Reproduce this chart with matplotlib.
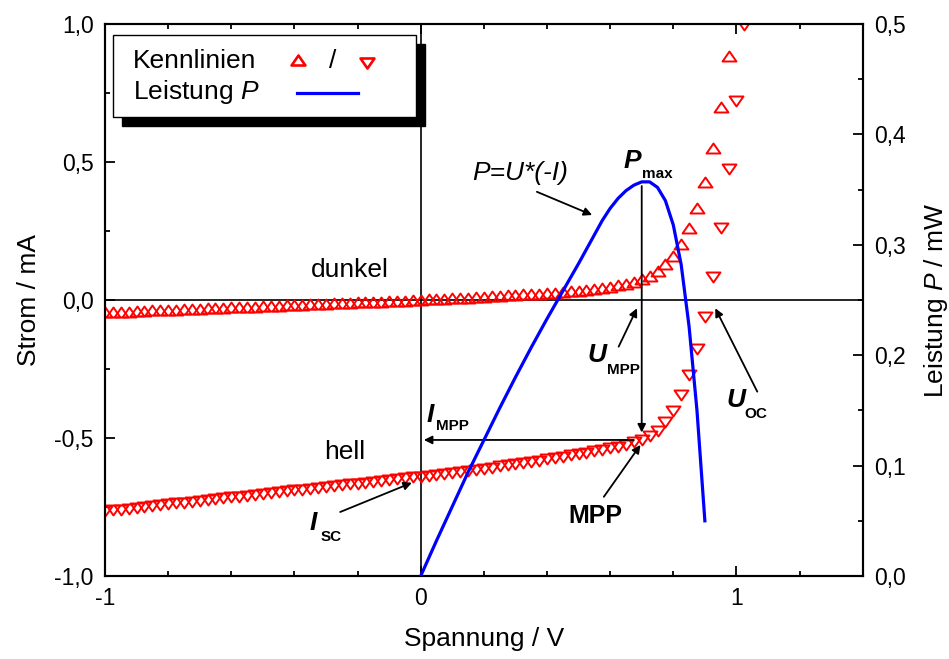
import numpy as np
import matplotlib.pyplot as plt
from matplotlib.path import Path
from matplotlib.patches import Rectangle
from matplotlib.ticker import MultipleLocator, FuncFormatter

plt.rcParams['font.family'] = ['Liberation Sans', 'DejaVu Sans']
plt.rcParams['mathtext.fontset'] = 'custom'
plt.rcParams['mathtext.rm'] = 'Liberation Sans'
plt.rcParams['mathtext.it'] = 'Liberation Sans:italic'
plt.rcParams['mathtext.bf'] = 'Liberation Sans:bold'

# voltage sweep, 25 mV steps
u_dark = np.round(np.arange(-1.0, 0.9751, 0.025), 3)
u_light = np.round(np.arange(-1.0, 1.0251, 0.025), 3)

# dark curve (mA)
i_dark = [-0.045, -0.044, -0.043, -0.042, -0.041, -0.039, -0.038, -0.037, -0.036, -0.035,
          -0.034, -0.033, -0.032, -0.030, -0.029, -0.028, -0.027, -0.026, -0.025, -0.024,
          -0.023, -0.021, -0.020, -0.019, -0.018, -0.017, -0.016, -0.015, -0.014, -0.012,
          -0.011, -0.010, -0.009, -0.008, -0.007, -0.006, -0.005, -0.003, -0.002, -0.001,
          0.000,
          0.002, 0.003, 0.005, 0.006, 0.008, 0.009, 0.011, 0.012, 0.014, 0.015,
          0.017, 0.018, 0.020, 0.021, 0.023, 0.025, 0.027, 0.029, 0.031, 0.034,
          0.037, 0.040, 0.044, 0.048, 0.053, 0.059, 0.066, 0.075, 0.087, 0.106,
          0.129, 0.159, 0.203, 0.260, 0.332, 0.429, 0.552, 0.700, 0.884]

# illuminated curve (mA)
i_light = [-0.765, -0.762, -0.759, -0.756, -0.752, -0.749, -0.746, -0.743, -0.740, -0.737,
           -0.734, -0.731, -0.727, -0.724, -0.721, -0.718, -0.715, -0.712, -0.709, -0.706,
           -0.702, -0.699, -0.696, -0.693, -0.690, -0.687, -0.684, -0.681, -0.677, -0.674,
           -0.671, -0.668, -0.665, -0.662, -0.659, -0.656, -0.652, -0.649, -0.646, -0.643,
           -0.640,
           -0.636, -0.633, -0.629, -0.626, -0.622, -0.618, -0.615, -0.611, -0.607, -0.603,
           -0.599, -0.595, -0.591, -0.587, -0.582, -0.577, -0.573, -0.568, -0.563, -0.558,
           -0.553, -0.548, -0.543, -0.537, -0.531, -0.524, -0.516, -0.507, -0.493, -0.473,
           -0.443, -0.401, -0.344, -0.272, -0.179, -0.060, 0.085, 0.262, 0.473, 0.721,
           0.995]

# power curve (mW)
u_p = [0.0, 0.05, 0.10, 0.15, 0.20, 0.25, 0.30, 0.35, 0.40, 0.45, 0.50, 0.55, 0.575,
       0.60, 0.625, 0.65, 0.675, 0.70, 0.725, 0.75, 0.775, 0.80, 0.825, 0.85, 0.875, 0.90]
p = [0.000, 0.032, 0.063, 0.094, 0.123, 0.152, 0.180, 0.207, 0.233, 0.258, 0.283, 0.309,
     0.322, 0.333, 0.342, 0.349, 0.354, 0.357, 0.357, 0.352, 0.340, 0.318, 0.282, 0.226,
     0.150, 0.050]

codes = [Path.MOVETO, Path.LINETO, Path.LINETO, Path.CLOSEPOLY]
tri_up = Path([(0, 0.72), (-1, -0.72), (1, -0.72), (0, 0.72)], codes)
tri_dn = Path([(0, -0.72), (-1, 0.72), (1, 0.72), (0, -0.72)], codes)

fig = plt.figure(figsize=(9.49, 6.59), dpi=100)
ax = fig.add_axes([0.1106, 0.1259, 0.7985, 0.8377])
ax2 = ax.twinx()

ax.axhline(0, color='black', lw=1.2, zorder=1)
ax.axvline(0, color='black', lw=1.2, zorder=1)

ax.plot(u_dark, i_dark, ls='none', marker=tri_up, ms=10, mfc='none', mec='red', mew=1.4, zorder=3)
ax.plot(u_light, i_light, ls='none', marker=tri_dn, ms=10, mfc='none', mec='red', mew=1.4, zorder=3)
ax2.plot(u_p, p, color='#0000ff', lw=2.3, zorder=3)

ax.set_xlim(-1, 1.4)
ax.set_ylim(-1, 1)
ax2.set_ylim(0, 0.5)

comma1 = FuncFormatter(lambda v, pos: ('%.1f' % (0 if abs(v) < 1e-9 else v)).replace('.', ','))
ax.xaxis.set_major_locator(MultipleLocator(1))
ax.xaxis.set_minor_locator(MultipleLocator(0.2))
ax.xaxis.set_major_formatter(FuncFormatter(lambda v, pos: '%d' % round(v)))
ax.yaxis.set_major_locator(MultipleLocator(0.5))
ax.yaxis.set_minor_locator(MultipleLocator(0.25))
ax.yaxis.set_major_formatter(comma1)
ax2.yaxis.set_major_locator(MultipleLocator(0.1))
ax2.yaxis.set_minor_locator(MultipleLocator(0.05))
ax2.yaxis.set_major_formatter(comma1)

ax.tick_params(which='both', direction='in', top=True, right=False, width=1.3, labelsize=16.5, pad=8)
ax.tick_params(which='major', length=7)
ax.tick_params(which='minor', length=3.5)
ax2.tick_params(which='both', direction='in', width=1.3, labelsize=16.5, pad=8)
ax2.tick_params(which='major', length=7)
ax2.tick_params(which='minor', length=3.5)
for a in (ax, ax2):
    for s in a.spines.values():
        s.set_linewidth(1.5)

ax.set_xlabel('Spannung / V', fontsize=19, labelpad=12)
ax.set_ylabel('Strom / mA', fontsize=19, labelpad=10)
ax2.set_ylabel('Leistung $P$ / mW', fontsize=19, labelpad=12)

# annotations
arw = dict(arrowstyle='-|>', color='black', lw=1.3, mutation_scale=12, shrinkA=0, shrinkB=0)
ax.text(-0.223, 0.109, 'dunkel', fontsize=19, ha='center', va='center')
ax.text(-0.242, -0.551, 'hell', fontsize=19, ha='center', va='center')
ax.text(0.315, 0.46, 'P=U*(-I)', fontsize=19, style='italic', ha='center', va='center')
ax.annotate('', xy=(0.543, 0.308), xytext=(0.368, 0.392), arrowprops=arw)

ax.text(0.642, 0.478, 'P', fontsize=19, weight='bold', style='italic', ha='left', va='baseline')
ax.text(0.70, 0.442, 'max', fontsize=11, weight='bold', ha='left', va='baseline')
ax.annotate('', xy=(0.7, -0.48), xytext=(0.7, 0.413), arrowprops=arw)
ax.annotate('', xy=(0.01, -0.507), xytext=(0.675, -0.507), arrowprops=arw)

ax.text(0.528, -0.225, 'U', fontsize=19, weight='bold', style='italic', ha='left', va='baseline')
ax.text(0.591, -0.268, 'MPP', fontsize=11, weight='bold', ha='left', va='baseline')
ax.annotate('', xy=(0.685, -0.030), xytext=(0.627, -0.169), arrowprops=arw)

ax.text(0.02, -0.441, 'I', fontsize=19, weight='bold', style='italic', ha='left', va='baseline')
ax.text(0.049, -0.471, 'MPP', fontsize=11, weight='bold', ha='left', va='baseline')

ax.text(0.468, -0.808, 'MPP', fontsize=18, weight='bold', ha='left', va='baseline')
ax.annotate('', xy=(0.696, -0.525), xytext=(0.58, -0.713), arrowprops=arw)

ax.text(0.968, -0.388, 'U', fontsize=19, weight='bold', style='italic', ha='left', va='baseline')
ax.text(1.025, -0.428, 'OC', fontsize=11, weight='bold', ha='left', va='baseline')
ax.annotate('', xy=(0.933, -0.030), xytext=(1.066, -0.332), arrowprops=arw)

ax.text(-0.353, -0.833, 'I', fontsize=19, weight='bold', style='italic', ha='left', va='baseline')
ax.text(-0.318, -0.873, 'SC', fontsize=11, weight='bold', ha='left', va='baseline')
ax.annotate('', xy=(-0.028, -0.662), xytext=(-0.255, -0.768), arrowprops=arw)

# legend box with shadow
tr = ax2.transAxes
x0, y0, w, h = 0.0106, 0.8315, 0.40, 0.1485
ax2.add_patch(Rectangle((x0 + 0.0119, y0 - 0.0163), w, h, transform=tr, facecolor='black',
                        edgecolor='black', zorder=10, clip_on=False))
ax2.add_patch(Rectangle((x0, y0), w, h, transform=tr, facecolor='white',
                        edgecolor='black', lw=1.0, zorder=11, clip_on=False))
ax2.text(0.037, 0.933, 'Kennlinien', transform=tr, fontsize=19, va='center', zorder=12)
ax2.text(0.037, 0.877, 'Leistung $P$', transform=tr, fontsize=19, va='center', zorder=12)
ax2.plot([0.2547], [0.935], transform=tr, ls='none', marker=tri_up, ms=10, mfc='none',
         mec='red', mew=1.9, zorder=12, clip_on=False)
ax2.text(0.301, 0.933, '/', transform=tr, fontsize=19, ha='center', va='center', zorder=12)
ax2.plot([0.3458], [0.930], transform=tr, ls='none', marker=tri_dn, ms=10, mfc='none',
         mec='red', mew=1.9, zorder=12, clip_on=False)
ax2.plot([0.2534, 0.3340], [0.875, 0.875], transform=tr, color='#0000ff', lw=2.3,
         zorder=12, clip_on=False)

fig.savefig('out.png', dpi=100)
